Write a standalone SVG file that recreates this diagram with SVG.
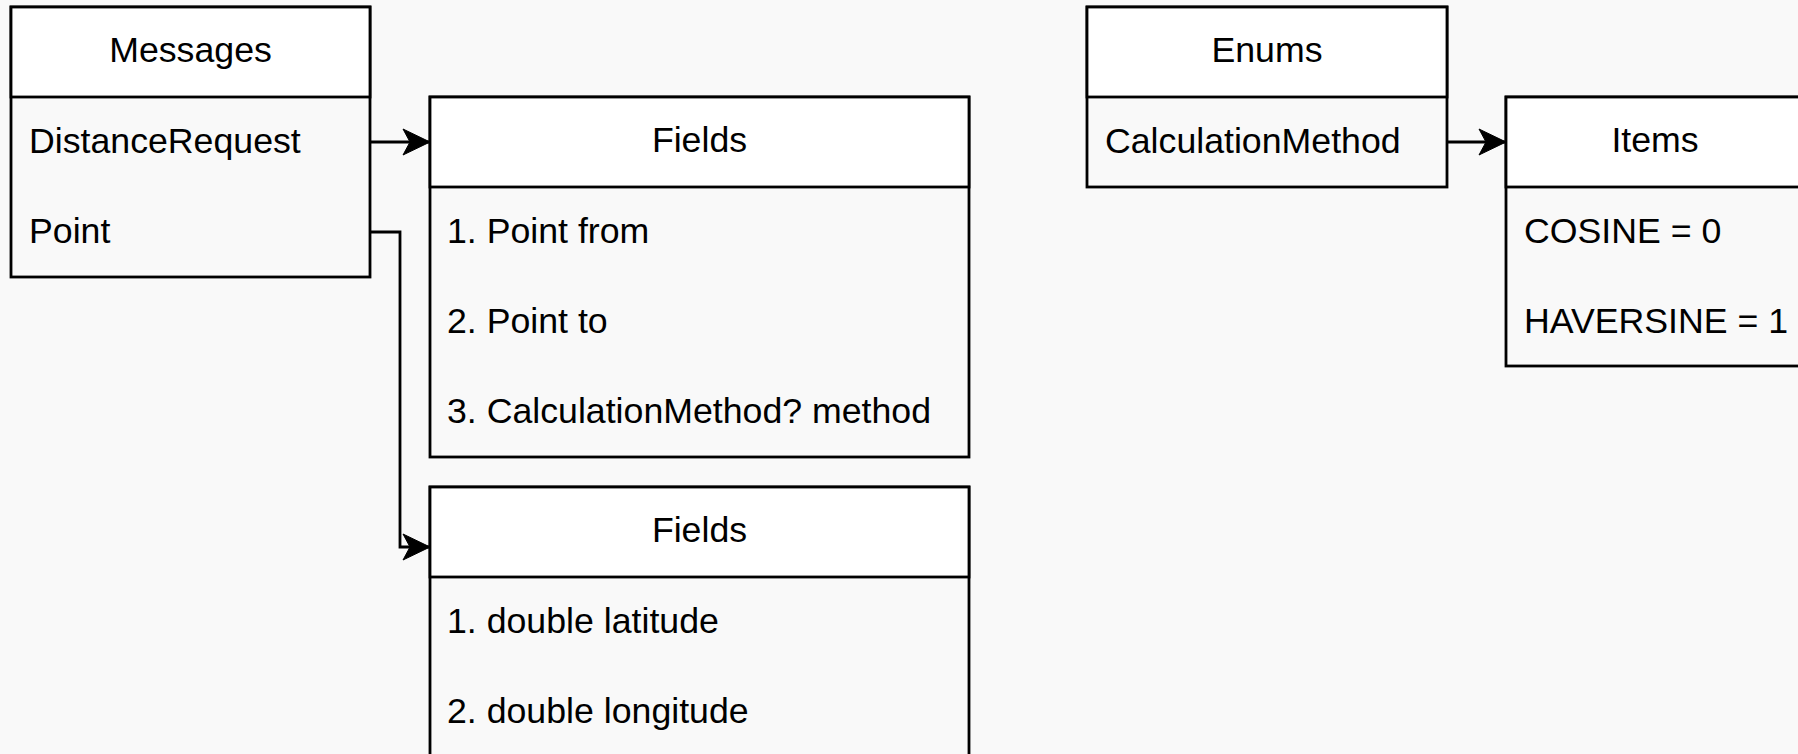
<svg xmlns="http://www.w3.org/2000/svg" width="1798" height="754" viewBox="0 0 1798 754">
  <defs>
    <style>
      .bg { fill: #f9f9f9; }
      .box { fill: #f9f9f9; stroke: #000; stroke-width: 2.8; }
      .head { fill: #ffffff; stroke: #000; stroke-width: 2.8; }
      .t { font-family: "Liberation Sans", Arial, sans-serif; font-size: 35.7px; fill: #000; }
      .c { text-anchor: middle; }
      .edge { fill: none; stroke: #000; stroke-width: 2.8; }
    </style>
    <marker id="arrow" markerUnits="userSpaceOnUse" viewBox="-28 -14 29 28" refX="0" refY="0" markerWidth="29" markerHeight="28" orient="auto">
      <path d="M0,0 L-27,-13 L-20,0 L-27,13 Z" fill="#000" stroke="#000" stroke-width="1"/>
    </marker>
  </defs>

  <rect class="bg" x="0" y="0" width="1798" height="754"/>

  <!-- Messages list -->
  <g id="messages">
    <rect class="box" x="11" y="7" width="359" height="270"/>
    <rect class="head" x="11" y="7" width="359" height="90"/>
    <text class="t c" x="190.5" y="62">Messages</text>
    <text class="t" x="29" y="153">DistanceRequest</text>
    <text class="t" x="29" y="243">Point</text>
  </g>

  <!-- Fields of DistanceRequest -->
  <g id="fields-distance-request">
    <rect class="box" x="430" y="97" width="539" height="360"/>
    <rect class="head" x="430" y="97" width="539" height="90"/>
    <text class="t c" x="699.5" y="152">Fields</text>
    <text class="t" x="447" y="243">1. Point from</text>
    <text class="t" x="447" y="333">2. Point to</text>
    <text class="t" x="447" y="423">3. CalculationMethod? method</text>
  </g>

  <!-- Fields of Point -->
  <g id="fields-point">
    <rect class="box" x="430" y="487" width="539" height="280"/>
    <rect class="head" x="430" y="487" width="539" height="90"/>
    <text class="t c" x="699.5" y="542">Fields</text>
    <text class="t" x="447" y="633">1. double latitude</text>
    <text class="t" x="447" y="723">2. double longitude</text>
  </g>

  <!-- Enums list -->
  <g id="enums">
    <rect class="box" x="1087" y="7" width="360" height="180"/>
    <rect class="head" x="1087" y="7" width="360" height="90"/>
    <text class="t c" x="1267" y="62">Enums</text>
    <text class="t" x="1105" y="153">CalculationMethod</text>
  </g>

  <!-- Items of CalculationMethod -->
  <g id="items">
    <rect class="box" x="1506" y="97" width="298" height="269"/>
    <rect class="head" x="1506" y="97" width="298" height="90"/>
    <text class="t c" x="1655" y="152">Items</text>
    <text class="t" x="1524" y="243">COSINE = 0</text>
    <text class="t" x="1524" y="333">HAVERSINE = 1</text>
  </g>

  <!-- Connectors -->
  <g id="connectors">
    <path class="edge" d="M370,142 L430,142" marker-end="url(#arrow)"/>
    <path class="edge" d="M370,232 L400,232 L400,547 L430,547" marker-end="url(#arrow)"/>
    <path class="edge" d="M1447,142 L1506,142" marker-end="url(#arrow)"/>
  </g>
</svg>
